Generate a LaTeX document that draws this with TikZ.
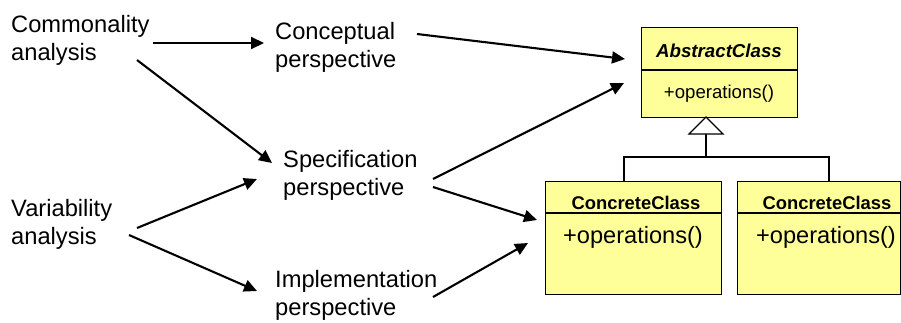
\documentclass[tikz,border=0pt]{standalone}
\usepackage{fontspec}
\setmainfont{Liberation Sans}
\usetikzlibrary{arrows.meta,calc}

\definecolor{classfill}{HTML}{FFFF99}

\begin{document}
\begin{tikzpicture}[x=1pt,y=-1pt,
  label/.style={anchor=north west,inner sep=0pt,align=left,
    font=\fontsize{23.7}{28.5}\selectfont},
  flow/.style={line width=2.1pt,-{Triangle[length=13pt,width=12pt]}},
  classbox/.style={anchor=north west,draw,line width=1.2pt,fill=classfill,
    inner sep=0pt},
  classname/.style={anchor=base,inner sep=0pt,font=\bfseries\fontsize{18.4}{20}\selectfont},
  classop/.style={anchor=base,inner sep=0pt},
  thin/.style={line width=1.2pt}
]
\useasboundingbox (0,0) rectangle (901,322);

% analysis and perspective labels
\node[label] (comm) at (11,12)  {\strut Commonality\\\strut analysis};
\node[label] (vari) at (11,196) {\strut Variability\\\strut analysis};
\node[label] (conc) at (275,19) {\strut Conceptual\\\strut perspective};
\node[label] (spec) at (283,147) {\strut Specification\\\strut perspective};
\node[label] (impl) at (275,267) {\strut Implementation\\\strut perspective};

% class boxes
\node[classbox,minimum width=156pt,minimum height=90pt] (abs) at (641,27) {};
\node[classbox,minimum width=176pt,minimum height=113pt] (cc1) at (545,181) {};
\node[classbox,minimum width=163pt,minimum height=113pt] (cc2) at (737,181) {};
\draw[thin] ($(abs.north west)+(0,43)$) -- ($(abs.north east)+(0,43)$);
\draw[thin] ($(cc1.north west)+(0,32)$) -- ($(cc1.north east)+(0,32)$);
\draw[thin] ($(cc2.north west)+(0,32)$) -- ($(cc2.north east)+(0,32)$);

\node[classname,font=\bfseries\itshape\fontsize{18.7}{20}\selectfont] (absname) at (719,57) {AbstractClass};
\node[classop,font=\fontsize{18.6}{20}\selectfont] (absop) at (719,98) {+operations()};
\node[classname] (cc1name) at (636,209) {ConcreteClass};
\node[classop,font=\fontsize{23.6}{26}\selectfont] (cc1op) at (633,243) {+operations()};
\node[classname] (cc2name) at (827,209) {ConcreteClass};
\node[classop,font=\fontsize{23.6}{26}\selectfont] (cc2op) at (826,243) {+operations()};

% generalization
\coordinate (apex) at (706,117);
\coordinate (base) at (706,134);
\coordinate (bus) at (706,157);
\coordinate (drop1) at (624,181);
\coordinate (drop2) at (829,181);
\draw[thin] (base) -- (bus);
\draw[thin] (drop1) |- (bus) -| (drop2);
\draw[thin,fill=white] (apex) -- (723,134) -- (689,134) -- cycle;

% flow arrows
\draw[flow] ($(comm.north west)+(142,31)$) -- ($(conc.north west)+(-11,24)$);
\draw[flow] ($(comm.north west)+(126,48)$) -- ($(spec.north west)+(-11,16)$);
\draw[flow] ($(vari.north west)+(126,32)$) -- ($(spec.north west)+(-26,32)$);
\draw[flow] ($(vari.north west)+(118,39)$) -- ($(impl.north west)+(-18,24)$);
\draw[flow] ($(conc.north west)+(142,15)$) -- ($(abs.north west)+(-16,32)$);
\draw[flow] ($(spec.north west)+(150,32)$) -- ($(abs.north west)+(-17,56)$);
\draw[flow] ($(spec.north west)+(150,40)$) -- ($(cc1.north west)+(-8,39)$);
\draw[flow] ($(impl.north west)+(158,30)$) -- ($(cc1.north west)+(-17,62)$);
\end{tikzpicture}
\end{document}
